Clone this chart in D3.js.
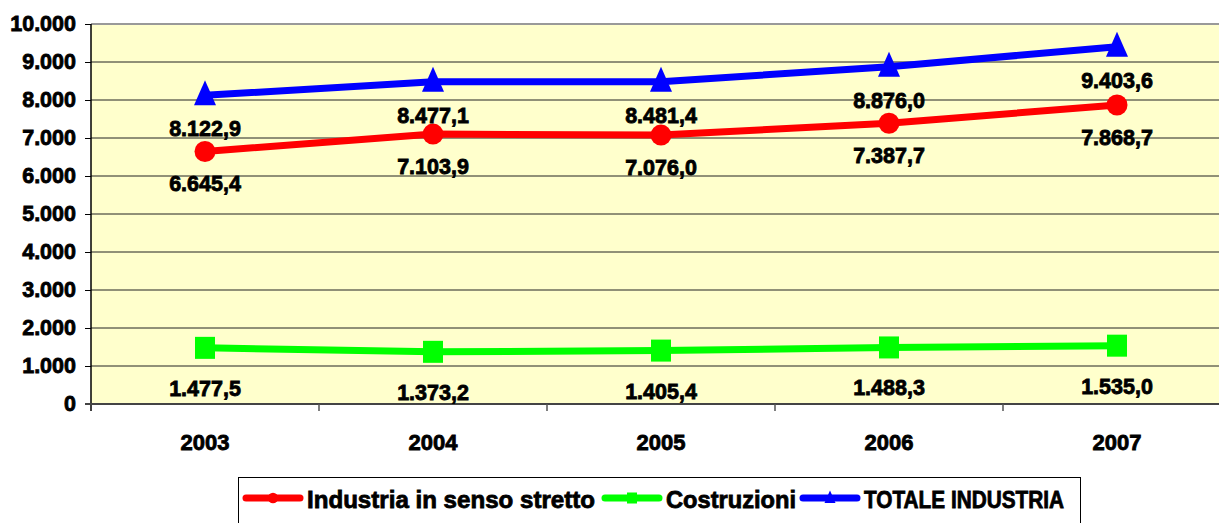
<!DOCTYPE html>
<html lang="it">
<head>
<meta charset="UTF-8">
<title>Industria 2003-2007</title>
<script src="https://d3js.org/d3.v7.min.js"></script>
<style>
  body { margin: 0; background: #fff; overflow: hidden; }
  svg text { font-family: "Liberation Sans", Arial, sans-serif !important; font-weight: 700 !important; fill: #000; stroke: #000; stroke-width: 0.8px; }
</style>
</head>
<body>
<svg id="chart" width="1219" height="523"></svg>
<script>
// data
const years = ["2003", "2004", "2005", "2006", "2007"];
const industria = [6645.4, 7103.9, 7076.0, 7387.7, 7868.7];
const costruzioni = [1477.5, 1373.2, 1405.4, 1488.3, 1535.0];
const totale = [8122.9, 8477.1, 8481.4, 8876.0, 9403.6];
const yTicks = [0, 1000, 2000, 3000, 4000, 5000, 6000, 7000, 8000, 9000, 10000];

const series = [
  { name: "Industria in senso stretto", values: industria, color: "#ff0000", marker: "circle", labelDy: 33, legendX: 243, legendW: 288 },
  { name: "Costruzioni", values: costruzioni, color: "#00ff00", marker: "square", labelDy: 41, legendX: 602, legendW: 130 },
  { name: "TOTALE INDUSTRIA", values: totale, color: "#0000ff", marker: "triangle", labelDy: 34, legendX: 800, legendW: 200 }
];

const svg = d3.select("#chart");
const plotLeft = 91, plotRight = 1231, plotTop = 24, plotBottom = 404;

const x = d3.scaleBand().domain(years).range([plotLeft, plotRight]);
const y = d3.scaleLinear().domain([0, 10000]).range([plotBottom, plotTop]);

// formato italiano
const it = d3.formatLocale({ decimal: ",", thousands: ".", grouping: [3], currency: ["€", ""] });
const fmtTick = it.format(",d");
const fmtVal = it.format(",.1f");

// plot background
svg.append("rect")
  .attr("x", plotLeft).attr("y", plotTop)
  .attr("width", plotRight - plotLeft).attr("height", plotBottom - plotTop)
  .attr("fill", "#ffffcc");

// gridlines
svg.append("g").selectAll("line")
  .data(yTicks.filter(d => d > 0 && d < 10000))
  .enter().append("line")
  .attr("x1", plotLeft).attr("x2", plotRight)
  .attr("y1", d => y(d)).attr("y2", d => y(d))
  .attr("stroke", "#222").attr("stroke-width", 1);

svg.append("line")
  .attr("x1", plotLeft).attr("x2", plotRight)
  .attr("y1", plotTop).attr("y2", plotTop)
  .attr("stroke", "#999").attr("stroke-width", 2);

// y axis
const yAxis = svg.append("g")
  .attr("transform", `translate(${plotLeft},0)`)
  .call(d3.axisLeft(y).tickValues(yTicks).tickFormat(fmtTick).tickSize(6).tickPadding(9));
yAxis.select(".domain").remove();
yAxis.selectAll(".tick line").attr("stroke", "#000");
yAxis.selectAll("text").style("font-size", "21.5px");
svg.append("line")
  .attr("x1", plotLeft).attr("x2", plotLeft).attr("y1", plotTop).attr("y2", plotBottom + 7)
  .attr("stroke", "#000").attr("stroke-width", 1.5);

// x axis
const xAxis = svg.append("g")
  .attr("transform", `translate(0,${plotBottom})`)
  .call(d3.axisBottom(x).tickSize(0).tickPadding(30));
xAxis.select(".domain").remove();
xAxis.selectAll("text").style("font-size", "22px");
svg.append("line")
  .attr("x1", plotLeft - 6).attr("x2", plotRight).attr("y1", plotBottom).attr("y2", plotBottom)
  .attr("stroke", "#444").attr("stroke-width", 2);
svg.append("g").selectAll("line")
  .data(years.slice(1))
  .enter().append("line")
  .attr("x1", d => x(d)).attr("x2", d => x(d))
  .attr("y1", plotBottom).attr("y2", plotBottom + 7)
  .attr("stroke", "#555").attr("stroke-width", 1.5);

const cx = d => x(d) + x.bandwidth() / 2;

function drawMarker(g, type, color, px, py, s) {
  if (type === "circle") {
    g.append("circle").attr("cx", px).attr("cy", py).attr("r", 10.5 * s).attr("fill", color);
  } else if (type === "square") {
    g.append("rect").attr("x", px - 10 * s).attr("y", py - 11 * s)
      .attr("width", 20 * s).attr("height", 22 * s).attr("fill", color);
  } else {
    const w = 11 * s, h = 25 * s;
    g.append("path")
      .attr("d", `M${px},${py - h * 0.6}L${px + w},${py + h * 0.4}L${px - w},${py + h * 0.4}Z`)
      .attr("fill", color);
  }
}

// lines, markers
const line = d3.line().x((d, i) => cx(years[i])).y(d => y(d));
series.forEach(s => {
  const g = svg.append("g");
  g.append("path").datum(s.values)
    .attr("d", line).attr("fill", "none")
    .attr("stroke", s.color).attr("stroke-width", 7);
  s.values.forEach((v, i) => drawMarker(g, s.marker, s.color, cx(years[i]), y(v), 1));
});

// data labels
series.forEach(s => {
  svg.append("g").selectAll("text")
    .data(s.values)
    .enter().append("text")
    .attr("x", (d, i) => cx(years[i]))
    .attr("y", d => y(d) + s.labelDy)
    .attr("text-anchor", "middle")
    .attr("dominant-baseline", "central")
    .style("font-size", "21.5px")
    .text(d => fmtVal(d));
});

// legend
const lg = svg.append("g").attr("class", "legend");
lg.append("rect")
  .attr("x", 238.5).attr("y", 477.5).attr("width", 842).attr("height", 60)
  .attr("fill", "#fff").attr("stroke", "#000").attr("stroke-width", 1);
series.forEach(s => {
  const lx = s.legendX, ly = 498;
  lg.append("line").attr("x1", lx + 3).attr("x2", lx + 57).attr("y1", ly).attr("y2", ly)
    .attr("stroke", s.color).attr("stroke-width", 7).attr("stroke-linecap", "round");
  drawMarker(lg, s.marker, s.color, lx + 30, ly, 0.5);
  lg.append("text").attr("x", lx + 64).attr("y", ly + 1.5)
    .attr("dominant-baseline", "central")
    .attr("textLength", s.legendW).attr("lengthAdjust", "spacingAndGlyphs")
    .style("font-size", "24px")
    .text(s.name);
});
</script>
</body>
</html>
